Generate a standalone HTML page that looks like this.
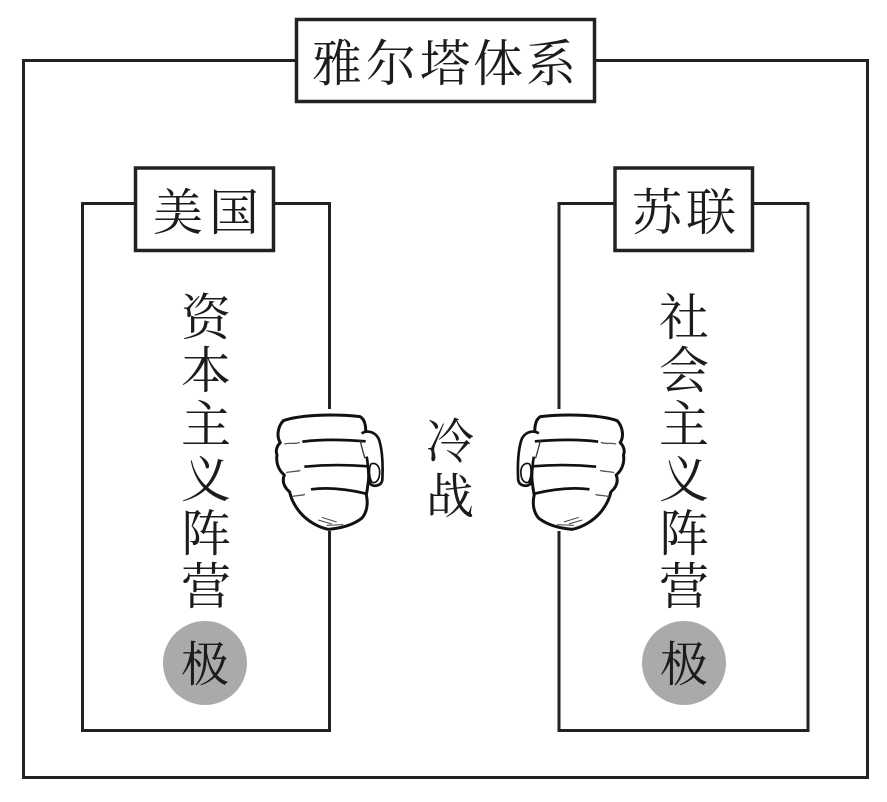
<!DOCTYPE html>
<html>
<head>
<meta charset="utf-8">
<style>
html,body{margin:0;padding:0;background:#fff;}
svg{display:block;}
text{font-family:"Liberation Serif","Noto Serif CJK SC","Noto Sans CJK SC",serif;fill:#1e1b1c;text-anchor:middle;}
</style>
</head>
<body>
<svg width="887" height="802" viewBox="0 0 887 802" xmlns="http://www.w3.org/2000/svg">
  <rect x="0" y="0" width="887" height="802" fill="#fff"/>
  <!-- outer frame -->
  <rect x="23.5" y="60.5" width="844" height="717" fill="none" stroke="#222" stroke-width="3"/>
  <!-- title box -->
  <rect x="296.5" y="19.5" width="298" height="82" fill="#fff" stroke="#222" stroke-width="3.5"/>
  <g font-size="50">
    <text x="337" y="81">雅</text>
    <text x="391" y="81">尔</text>
    <text x="445" y="81">塔</text>
    <text x="498" y="81">体</text>
    <text x="551" y="81">系</text>
  </g>

  <!-- left inner box -->
  <rect x="82.5" y="203.5" width="247" height="527" fill="none" stroke="#222" stroke-width="3"/>
  <rect x="135.5" y="168" width="138" height="82.5" fill="#fff" stroke="#222" stroke-width="3.5"/>
  <g font-size="50">
    <text x="178" y="230">美</text>
    <text x="234" y="230">国</text>
  </g>

  <!-- right inner box -->
  <rect x="559" y="203.5" width="249" height="527" fill="none" stroke="#222" stroke-width="3"/>
  <rect x="615" y="168" width="137.5" height="82.5" fill="#fff" stroke="#222" stroke-width="3.5"/>
  <g font-size="50">
    <text x="657" y="230">苏</text>
    <text x="711" y="230">联</text>
  </g>

  <!-- left vertical text -->
  <g font-size="50">
    <text x="206" y="335">资</text>
    <text x="206" y="388">本</text>
    <text x="206" y="442">主</text>
    <text x="206" y="497">义</text>
    <text x="206" y="551">阵</text>
    <text x="206" y="604">营</text>
  </g>
  <!-- right vertical text -->
  <g font-size="50">
    <text x="684" y="335">社</text>
    <text x="684" y="388">会</text>
    <text x="684" y="442">主</text>
    <text x="684" y="497">义</text>
    <text x="684" y="551">阵</text>
    <text x="684" y="604">营</text>
  </g>

  <!-- circles -->
  <circle cx="205" cy="663" r="42" fill="#aaaaaa"/>
  <circle cx="684" cy="663" r="42" fill="#aaaaaa"/>
  <g font-size="48">
    <text x="205" y="681">极</text>
    <text x="684" y="681">极</text>
  </g>

  <!-- cold war -->
  <g font-size="48">
    <text x="450" y="458">冷</text>
    <text x="450" y="513">战</text>
  </g>

  <!-- fists -->
  <defs>
    <g id="fist">
      <path d="M 55 62 C 100 46, 200 40, 285 50 C 302 58, 306 92, 298 112 C 306 140, 314 180, 310 205 C 314 230, 308 260, 304 285 C 310 310, 306 338, 290 355 C 268 372, 238 384, 190 388 C 158 382, 126 362, 104 336 C 88 316, 78 296, 74 276 C 58 262, 50 245, 58 225 C 42 212, 32 190, 36 165 C 30 150, 38 135, 46 128 C 34 110, 38 80, 55 62 Z" fill="#fff" stroke="#111" stroke-width="9" stroke-linejoin="round"/>
      <path d="M 290 100 C 310 88, 336 98, 343 122 C 352 152, 354 200, 352 240 C 349 258, 326 262, 315 251 C 309 230, 311 200, 305 170" fill="#fff" stroke="#111" stroke-width="8" stroke-linejoin="round"/>
      <path d="M 318 192 C 332 186, 344 198, 344 216 C 344 240, 333 251, 321 247 C 312 232, 311 204, 318 192 Z" fill="none" stroke="#111" stroke-width="5"/>
      <path d="M 112 125 C 170 117, 240 119, 302 124" fill="none" stroke="#111" stroke-width="8"/>
      <path d="M 118 200 C 180 194, 250 194, 310 199" fill="none" stroke="#111" stroke-width="8"/>
      <path d="M 138 268 C 190 261, 250 268, 304 281" fill="none" stroke="#111" stroke-width="8"/>
      <path d="M 58 132 C 76 127, 92 134, 104 127" fill="none" stroke="#555" stroke-width="4"/>
      <path d="M 64 218 C 80 213, 94 216, 106 211" fill="none" stroke="#555" stroke-width="4"/>
      <path d="M 80 290 C 96 285, 108 288, 120 283" fill="none" stroke="#555" stroke-width="4"/>
      <path d="M 285 120 C 290 140, 295 160, 300 175" fill="none" stroke="#333" stroke-width="4"/>
      <path d="M 160 360 L 200 372 M 170 352 L 215 366 M 185 376 L 235 374" fill="none" stroke="#444" stroke-width="3"/>
    </g>
  </defs>
  <rect x="272" y="409" width="113" height="122" fill="#fff"/>
  <rect x="516" y="409" width="113" height="122" fill="#fff"/>
  <use href="#fist" transform="translate(265,400) scale(0.3333)"/>
  <use href="#fist" transform="translate(900.5,0) scale(-1,1) translate(265,400) scale(0.3333)"/>
</svg>
</body>
</html>
